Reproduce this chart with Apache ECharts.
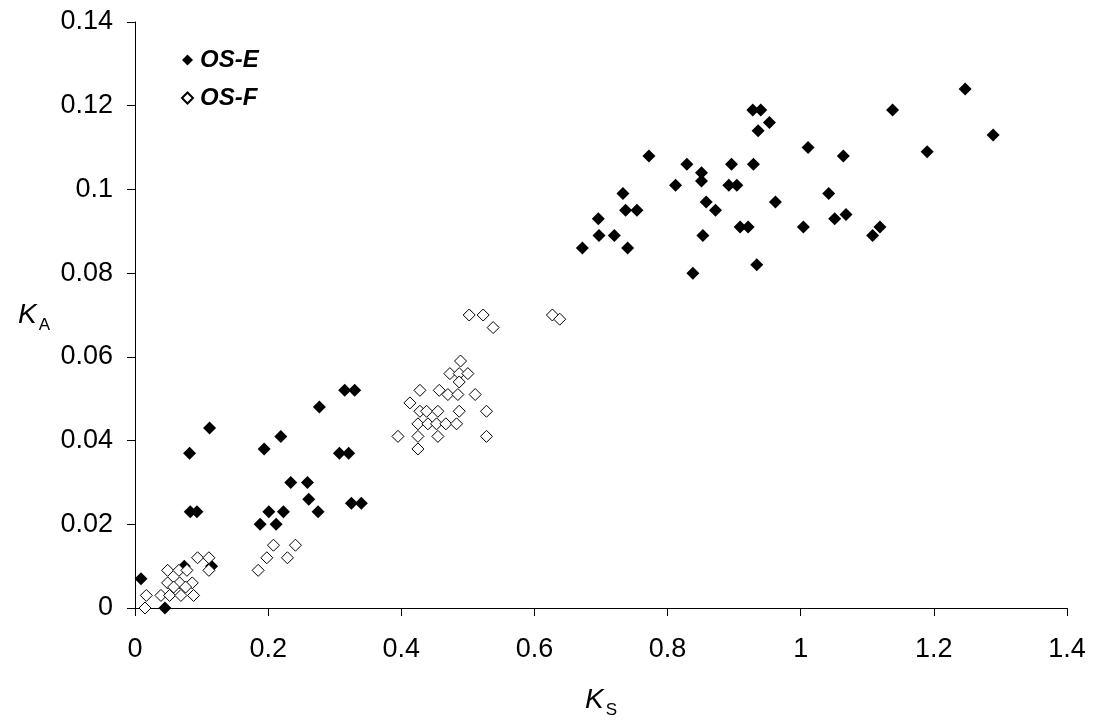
<!DOCTYPE html>
<html>
<head>
<meta charset="utf-8">
<script src="https://cdn.jsdelivr.net/npm/echarts@6/dist/echarts.min.js"></script>
<style>
  html, body { margin: 0; padding: 0; background: #fff; }
  #chart { width: 1097px; height: 726px; }
</style>
</head>
<body>
<div id="chart"></div>
<script>
// K_S values, OS-E
var osEx = [0.009, 0.045, 0.083, 0.093, 0.074, 0.115, 0.082, 0.112,
  0.188, 0.201, 0.212, 0.223, 0.234, 0.259, 0.261, 0.275, 0.194, 0.219, 0.277,
  0.315, 0.330, 0.307, 0.321, 0.325, 0.340,
  0.672, 0.697, 0.720, 0.740, 0.696, 0.733, 0.737, 0.754, 0.772, 0.812, 0.829,
  0.851, 0.851, 0.858, 0.872, 0.853, 0.838, 0.896, 0.892, 0.904, 0.929, 0.928,
  0.940, 0.953, 0.936, 0.909, 0.921, 0.934, 0.962, 1.011, 1.004, 1.064, 1.042,
  1.051, 1.068, 1.108, 1.119, 1.138, 1.190, 1.247, 1.289];
// K_A values, OS-E
var osEy = [0.007, 0.000, 0.023, 0.023, 0.010, 0.010, 0.037, 0.043,
  0.020, 0.023, 0.020, 0.023, 0.030, 0.030, 0.026, 0.023, 0.038, 0.041, 0.048,
  0.052, 0.052, 0.037, 0.037, 0.025, 0.025,
  0.086, 0.089, 0.089, 0.086, 0.093, 0.099, 0.095, 0.095, 0.108, 0.101, 0.106,
  0.104, 0.102, 0.097, 0.095, 0.089, 0.080, 0.106, 0.101, 0.101, 0.106, 0.119,
  0.119, 0.116, 0.114, 0.091, 0.091, 0.082, 0.097, 0.110, 0.091, 0.108, 0.099,
  0.093, 0.094, 0.089, 0.091, 0.119, 0.109, 0.124, 0.113];

// K_S values, OS-F
var osFx = [0.017, 0.015, 0.039, 0.049, 0.066, 0.078, 0.049, 0.067, 0.086,
  0.058, 0.076, 0.052, 0.069, 0.088, 0.094, 0.111, 0.111,
  0.185, 0.198, 0.208, 0.229, 0.241,
  0.395, 0.413, 0.425, 0.425, 0.425, 0.428, 0.428, 0.438, 0.440, 0.453, 0.455,
  0.455, 0.457, 0.467, 0.470, 0.473, 0.483, 0.485, 0.487, 0.487, 0.487, 0.489,
  0.500, 0.502, 0.511, 0.523, 0.528, 0.528, 0.538, 0.627, 0.638];
// K_A values, OS-F
var osFy = [0.003, 0.000, 0.003, 0.009, 0.009, 0.009, 0.006, 0.006, 0.006,
  0.005, 0.005, 0.003, 0.003, 0.003, 0.012, 0.012, 0.009,
  0.009, 0.012, 0.015, 0.012, 0.015,
  0.041, 0.049, 0.044, 0.041, 0.038, 0.052, 0.047, 0.047, 0.044, 0.044, 0.047,
  0.041, 0.052, 0.044, 0.051, 0.056, 0.044, 0.051, 0.056, 0.054, 0.047, 0.059,
  0.056, 0.070, 0.051, 0.070, 0.047, 0.041, 0.067, 0.070, 0.069];

var xTicks = ['0', '0.2', '0.4', '0.6', '0.8', '1', '1.2', '1.4'];
var yTicks = ['0', '0.02', '0.04', '0.06', '0.08', '0.1', '0.12', '0.14'];

function pairs(xs, ys) {
  return xs.map(function (x, i) { return [x, ys[i]]; });
}

var chart = echarts.init(document.getElementById('chart'));
var font = 'Liberation Sans, Arial, sans-serif';

// italic K with a lowered upright subscript
var nameRich = {
  k: { fontSize: 28, lineHeight: 28, fontStyle: 'italic', color: '#000', fontFamily: font, verticalAlign: 'top' },
  s: { fontSize: 17, lineHeight: 17, color: '#000', fontFamily: font, verticalAlign: 'top', padding: [16, 0, 0, 2] }
};

chart.setOption({
  animation: false,
  textStyle: { fontFamily: font },
  grid: { left: 135, right: 30, top: 22, bottom: 118 },
  legend: {
    orient: 'vertical',
    left: 181,
    top: 48,
    padding: 0,
    itemGap: 14,
    itemWidth: 11,
    itemHeight: 11,
    textStyle: { fontSize: 24, fontWeight: 'bold', fontStyle: 'italic', color: '#000', fontFamily: font, padding: [0, 0, 0, 2] },
    data: ['OS-E', 'OS-F']
  },
  xAxis: {
    type: 'value',
    min: 0,
    max: 1.4,
    interval: 0.2,
    name: '{k|K}{s|S}',
    nameLocation: 'middle',
    nameGap: 78,
    nameTextStyle: { rich: nameRich },
    axisLine: { lineStyle: { color: '#000', width: 1 } },
    axisTick: { show: true, inside: false, length: 8, lineStyle: { color: '#000' } },
    axisLabel: {
      fontSize: 27, color: '#000', margin: 28,
      formatter: function (v) { return xTicks[Math.round(v / 0.2)]; }
    },
    splitLine: { show: false }
  },
  yAxis: {
    type: 'value',
    min: 0,
    max: 0.14,
    interval: 0.02,
    name: '{k|K}{s|A}',
    nameLocation: 'middle',
    nameRotate: 0,
    nameGap: 85,
    nameTextStyle: { rich: nameRich },
    axisLine: { show: true, lineStyle: { color: '#000', width: 1 } },
    axisTick: { show: true, inside: false, length: 8, lineStyle: { color: '#000' } },
    axisLabel: {
      fontSize: 27, color: '#000', margin: 22,
      formatter: function (v) { return yTicks[Math.round(v / 0.02)]; }
    },
    splitLine: { show: false }
  },
  series: [
    {
      name: 'OS-E',
      type: 'scatter',
      symbol: 'diamond',
      symbolSize: 13,
      itemStyle: { color: '#000', borderColor: '#000', borderWidth: 0, opacity: 1 },
      data: pairs(osEx, osEy)
    },
    {
      name: 'OS-F',
      type: 'scatter',
      symbol: 'diamond',
      symbolSize: 12,
      itemStyle: { color: '#fff', borderColor: '#000', borderWidth: 1, opacity: 1 },
      data: pairs(osFx, osFy)
    }
  ]
});
</script>
</body>
</html>
